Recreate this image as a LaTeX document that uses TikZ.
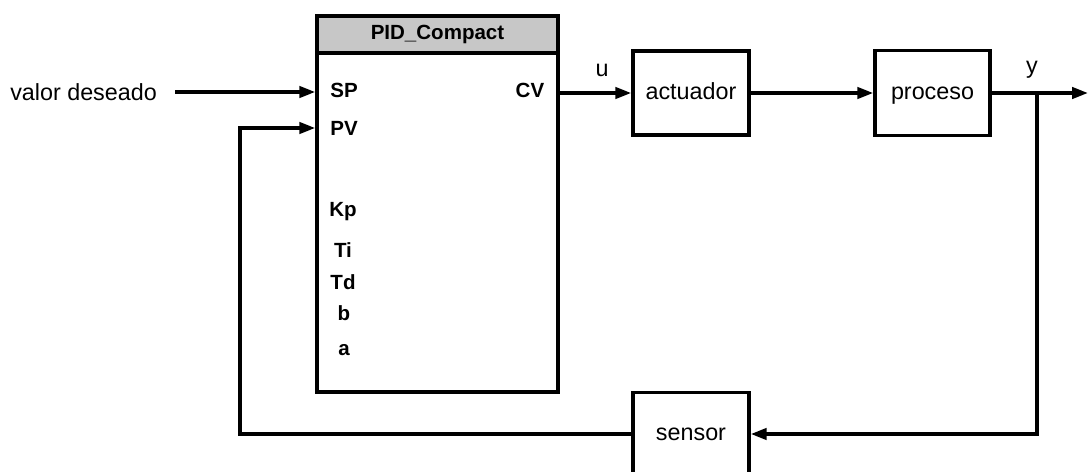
\documentclass[tikz,border=0pt]{standalone}
\usepackage{fontspec}
\setmainfont{Liberation Sans}
\usetikzlibrary{arrows.meta,calc}
\begin{document}
\begin{tikzpicture}[x=0.75pt,y=-0.75pt,
  wire/.style={line width=2.6pt},
  arr/.style={wire,-{Triangle[length=12pt,width=8.5pt]}},
  blk/.style={draw,line width=2.6pt,inner sep=0pt,
    text height=12.5pt,text depth=3.5pt,
    font=\fontsize{17.5}{20}\selectfont},
  lbl/.style={inner sep=0pt,font=\fontsize{17.5}{20}\selectfont},
  pin/.style={inner sep=0pt,font=\bfseries\fontsize{15.4}{18}\selectfont}]
\useasboundingbox (0,0) rectangle (1088,471);
\begin{scope}
\clip (0,0) rectangle (1088,471);
% PID block
\node[blk,minimum width=180.75pt,minimum height=282pt] (pid) at (437.5,204) {};
\node[blk,fill=black!22,minimum width=180.75pt,minimum height=27.75pt,
  text height=11pt,text depth=3pt,
  font=\bfseries\fontsize{15.4}{18}\selectfont] (hdr) at (437.5,34.5) {PID\_Compact};
\node[pin] (sp) at (344,90) {SP};
\node[pin] (pv) at (344,128) {PV};
\node[pin] (cv) at (530,90) {CV};
\node[pin] (kp) at (343,212) {Kp};
\node[pin] (ti) at (343,250) {Ti};
\node[pin] (td) at (343,282) {Td};
\node[pin] (pb) at (344,313) {b};
\node[pin] (pa) at (344,350) {a};
% other blocks
\node[blk,minimum width=87pt,minimum height=63pt] (act) at (691,93) {actuador};
\node[blk,minimum width=86.25pt,minimum height=63.75pt] (proc) at (932.5,93) {proceso};
\node[blk,minimum width=87pt,minimum height=62pt] (sens) at (691,434) {sensor};
% texts
\node[lbl,anchor=west] (valor) at (10,92) {valor deseado};
\node[lbl] (u) at (602,70) {u};
\node[lbl] (yl) at (1032,70) {y};
% coordinates
\coordinate (out) at (1088,93);
\coordinate (br) at (1037,93);
\coordinate (fb) at (240,434);
% connectors
\draw[arr] ($(valor.east)+(18,0)$) -- (valor.east -| pid.west);
\draw[arr] (act.west -| pid.east) -- (act.west);
\draw[arr] (act.east) -- (proc.west);
\draw[arr] (proc.east) -- (out);
\draw[arr] (br) |- (sens.east);
\draw[arr] (sens.west) -- (fb) |- (pid.west |- pv);
\end{scope}
\end{tikzpicture}
\end{document}
